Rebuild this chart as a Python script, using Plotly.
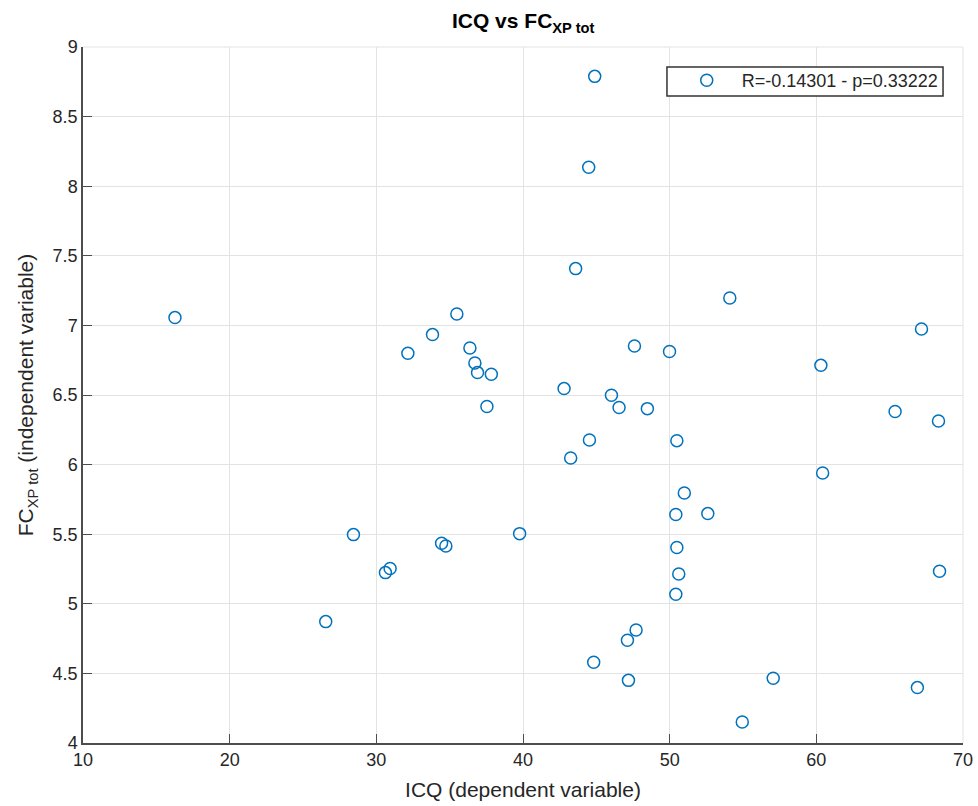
import plotly.graph_objects as go

icq = [16.27, 32.15, 33.83, 35.49, 36.38, 36.72, 36.90, 37.84,
       37.54, 28.44, 26.55, 30.62, 30.94, 34.45, 34.74, 39.77,
       44.89, 44.48, 43.59, 54.10, 47.60, 49.99, 60.31, 67.17,
       42.80, 46.03, 46.55, 48.48, 44.53, 43.25, 50.49, 65.37,
       68.33, 60.43, 51.00, 50.42, 52.60, 50.49, 50.62, 50.42,
       68.40, 47.71, 47.12, 44.82, 47.19, 57.06, 66.89, 54.95]
fc = [7.056, 6.800, 6.934, 7.082, 6.838, 6.730, 6.661, 6.649,
      6.417, 5.497, 4.872, 5.224, 5.253, 5.435, 5.415, 5.504,
      8.789, 8.136, 7.408, 7.197, 6.852, 6.812, 6.713, 6.974,
      6.546, 6.498, 6.410, 6.402, 6.177, 6.047, 6.172, 6.381,
      6.313, 5.940, 5.796, 5.641, 5.648, 5.404, 5.214, 5.068,
      5.234, 4.812, 4.738, 4.580, 4.450, 4.465, 4.398, 4.151]

x_ticks = [10, 20, 30, 40, 50, 60, 70]
y_ticks = [4, 4.5, 5, 5.5, 6, 6.5, 7, 7.5, 8, 8.5, 9]
legend_label = "R=-0.14301 - p=0.33222"

FONT = "Liberation Sans, Arial, Helvetica, sans-serif"
TXT = "#262626"

fig = go.Figure()
fig.add_trace(go.Scatter(
    x=icq, y=fc, mode="markers", name=legend_label,
    marker=dict(symbol="circle-open", size=12, color="#0072BD",
                line=dict(width=1.5, color="#0072BD")),
))

axis_common = dict(
    showgrid=True, gridcolor="#e3e3e3", gridwidth=1,
    showline=True, linecolor="#4d4d4d", linewidth=1.5,
    ticks="inside", ticklen=9, tickcolor="#4d4d4d", tickwidth=1.2,
    zeroline=False, mirror=False, automargin=False,
    tickfont=dict(family=FONT, size=18, color=TXT),
)

fig.update_layout(
    width=978, height=806,
    margin=dict(l=83, r=15, t=47, b=63),
    paper_bgcolor="white", plot_bgcolor="white",
    font=dict(family=FONT, color=TXT),
    title=dict(text="<b>ICQ vs FC<sub>XP tot</sub></b>", x=0.535, xanchor="center",
               y=0.974, yanchor="middle",
               font=dict(family=FONT, size=21, color="#000000")),
    xaxis=dict(range=[10, 70], tickvals=x_ticks, ticktext=[str(v) for v in x_ticks],
               title=dict(text="ICQ (dependent variable)", standoff=13,
                          font=dict(family=FONT, size=21, color=TXT)),
               **axis_common),
    yaxis=dict(range=[4, 9], tickvals=y_ticks, ticktext=[f"{v:g}" for v in y_ticks],
               title=dict(text="FC<sub>XP tot</sub> (independent variable)", standoff=13,
                          font=dict(family=FONT, size=21, color=TXT)),
               **axis_common),
    showlegend=True,
    legend=dict(x=0.669, y=0.9784, xanchor="left", yanchor="top",
                bgcolor="rgba(0,0,0,0)", borderwidth=0,
                itemwidth=60,
                font=dict(family=FONT, size=18, color=TXT)),
)

# top/right edges of box as light grid
fig.add_shape(type="line", xref="paper", yref="paper", x0=0, x1=1, y0=1, y1=1,
              line=dict(color="#e3e3e3", width=1))
fig.add_shape(type="line", xref="paper", yref="paper", x0=1, x1=1, y0=0, y1=1,
              line=dict(color="#e3e3e3", width=1))
# legend box
fig.add_shape(type="rect", xref="paper", yref="paper", layer="above",
              x0=0.6636, x1=0.9773, y0=0.9296, y1=0.9713,
              fillcolor="white", line=dict(color="#333333", width=1.5))

fig.write_html("out.html")
